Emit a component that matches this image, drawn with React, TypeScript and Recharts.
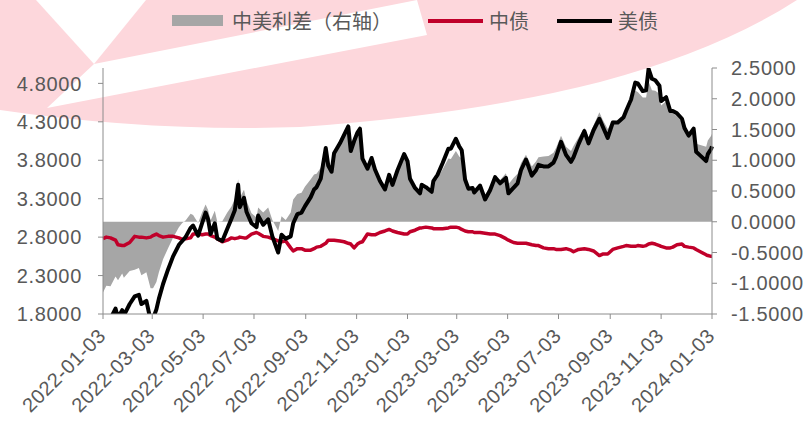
import React from "react";
import { ComposedChart, Area, Line, XAxis, YAxis } from "recharts";

// trading dates (sampled), yields in %, spread = 美债 - 中债 (right axis)
const dates = [
  "2022-01-03", "2022-01-07", "2022-01-12", "2022-01-18", "2022-01-21", "2022-01-26", "2022-01-28", "2022-02-04",
  "2022-02-10", "2022-02-15", "2022-02-18", "2022-02-24", "2022-03-01", "2022-03-04", "2022-03-08", "2022-03-11",
  "2022-03-16", "2022-03-22", "2022-03-28", "2022-04-04", "2022-04-08", "2022-04-12", "2022-04-18", "2022-04-21",
  "2022-04-27", "2022-05-02", "2022-05-06", "2022-05-09", "2022-05-12", "2022-05-17", "2022-05-20", "2022-05-26",
  "2022-06-01", "2022-06-06", "2022-06-10", "2022-06-14", "2022-06-16", "2022-06-21", "2022-06-24", "2022-06-30",
  "2022-07-06", "2022-07-08", "2022-07-14", "2022-07-20", "2022-07-25", "2022-08-01", "2022-08-05", "2022-08-10",
  "2022-08-16", "2022-08-19", "2022-08-24", "2022-08-29", "2022-09-02", "2022-09-09", "2022-09-13", "2022-09-16",
  "2022-09-21", "2022-09-27", "2022-09-30", "2022-10-04", "2022-10-07", "2022-10-14", "2022-10-19", "2022-10-24",
  "2022-10-27", "2022-10-31", "2022-11-04", "2022-11-07", "2022-11-10", "2022-11-16", "2022-11-21", "2022-11-25",
  "2022-12-01", "2022-12-07", "2022-12-12", "2022-12-16", "2022-12-22", "2022-12-30",
  "2023-01-03", "2023-01-06", "2023-01-12", "2023-01-18", "2023-01-20", "2023-01-25", "2023-02-01", "2023-02-03",
  "2023-02-08", "2023-02-14", "2023-02-21", "2023-02-24", "2023-03-02", "2023-03-06", "2023-03-09", "2023-03-13",
  "2023-03-17", "2023-03-22", "2023-03-24", "2023-03-31", "2023-04-06", "2023-04-12", "2023-04-18", "2023-04-24",
  "2023-05-01", "2023-05-04", "2023-05-10", "2023-05-15", "2023-05-19", "2023-05-25", "2023-06-01", "2023-06-06",
  "2023-06-09", "2023-06-15", "2023-06-21", "2023-06-27", "2023-06-30", "2023-07-06", "2023-07-12", "2023-07-18",
  "2023-07-21", "2023-07-27", "2023-08-03", "2023-08-08", "2023-08-14", "2023-08-21", "2023-08-25", "2023-08-31",
  "2023-09-06", "2023-09-12", "2023-09-19", "2023-09-22", "2023-09-28", "2023-10-03", "2023-10-06", "2023-10-12",
  "2023-10-16", "2023-10-19", "2023-10-23", "2023-10-27", "2023-11-01", "2023-11-03", "2023-11-09", "2023-11-14",
  "2023-11-17", "2023-11-22", "2023-11-28", "2023-12-01", "2023-12-06", "2023-12-12", "2023-12-15", "2023-12-20",
  "2023-12-27", "2023-12-29", "2024-01-02", "2024-01-03",
];

const usYield = [
  1.63, 1.76, 1.74, 1.87, 1.75, 1.85, 1.78, 1.93,
  2.03, 2.05, 1.93, 1.97, 1.72, 1.74, 1.86, 2.00,
  2.19, 2.38, 2.55, 2.70, 2.75, 2.80, 2.92, 2.95,
  2.82, 2.99, 3.12, 3.03, 2.84, 2.98, 2.78, 2.75,
  2.91, 3.04, 3.15, 3.48, 3.19, 3.31, 3.13, 2.98,
  2.93, 3.08, 2.96, 3.03, 2.81, 2.60, 2.83, 2.78,
  2.81, 2.98, 3.10, 3.12, 3.20, 3.32, 3.42, 3.45,
  3.56, 3.96, 3.73, 3.65, 3.89, 4.02, 4.13, 4.24,
  3.92, 4.05, 4.16, 4.21, 3.82, 3.69, 3.83, 3.68,
  3.53, 3.42, 3.61, 3.48, 3.67, 3.88,
  3.79, 3.56, 3.44, 3.37, 3.48, 3.45, 3.39, 3.53,
  3.61, 3.76, 3.95, 3.95, 4.08, 3.98, 3.93, 3.55,
  3.43, 3.44, 3.38, 3.47, 3.29, 3.41, 3.58, 3.50,
  3.57, 3.37, 3.44, 3.50, 3.67, 3.81, 3.60, 3.67,
  3.74, 3.72, 3.72, 3.77, 3.84, 4.04, 3.87, 3.78,
  3.84, 4.01, 4.18, 4.02, 4.19, 4.34, 4.24, 4.09,
  4.29, 4.29, 4.36, 4.44, 4.59, 4.81, 4.80, 4.70,
  4.71, 4.99, 4.86, 4.84, 4.77, 4.57, 4.62, 4.44,
  4.44, 4.41, 4.34, 4.22, 4.12, 4.21, 3.91, 3.86,
  3.79, 3.88, 3.95, 3.98,
];

const cnYield = [
  2.78, 2.80, 2.79, 2.76, 2.70, 2.69, 2.69, 2.73,
  2.81, 2.80, 2.80, 2.79, 2.80, 2.82, 2.84, 2.82,
  2.80, 2.81, 2.81, 2.79, 2.77, 2.78, 2.79, 2.84,
  2.84, 2.83, 2.84, 2.84, 2.82, 2.80, 2.78, 2.74,
  2.76, 2.79, 2.78, 2.79, 2.80, 2.79, 2.79, 2.84,
  2.86, 2.85, 2.81, 2.80, 2.78, 2.75, 2.74, 2.75,
  2.66, 2.62, 2.65, 2.65, 2.63, 2.63, 2.65, 2.67,
  2.68, 2.72, 2.76, 2.76, 2.76, 2.75, 2.74, 2.72,
  2.71, 2.66, 2.71, 2.73, 2.74, 2.84, 2.83, 2.83,
  2.86, 2.88, 2.90, 2.88, 2.86, 2.84,
  2.84, 2.87, 2.89, 2.92, 2.92, 2.93, 2.92, 2.91,
  2.91, 2.91, 2.92, 2.93, 2.93, 2.92, 2.90, 2.88,
  2.87, 2.87, 2.86, 2.86, 2.85, 2.84, 2.84, 2.82,
  2.78, 2.76, 2.73, 2.72, 2.72, 2.72, 2.70, 2.69,
  2.69, 2.66, 2.65, 2.65, 2.64, 2.64, 2.65, 2.63,
  2.61, 2.64, 2.65, 2.64, 2.62, 2.56, 2.58, 2.58,
  2.64, 2.66, 2.68, 2.69, 2.68, 2.68, 2.69, 2.68,
  2.69, 2.71, 2.72, 2.71, 2.69, 2.68, 2.66, 2.66,
  2.67, 2.70, 2.71, 2.68, 2.67, 2.66, 2.64, 2.61,
  2.57, 2.56, 2.55, 2.55,
];

const spread = [
  -1.15, -1.04, -1.05, -0.89, -0.95, -0.84, -0.91, -0.80,
  -0.78, -0.75, -0.87, -0.82, -1.08, -1.08, -0.98, -0.82,
  -0.61, -0.43, -0.26, -0.09, -0.02, 0.02, 0.13, 0.11,
  -0.02, 0.16, 0.28, 0.19, 0.02, 0.18, 0.0, 0.01,
  0.15, 0.25, 0.37, 0.69, 0.39, 0.52, 0.34, 0.14,
  0.07, 0.23, 0.15, 0.23, 0.03, -0.15, 0.09, 0.03,
  0.15, 0.36, 0.45, 0.47, 0.57, 0.69, 0.77, 0.78,
  0.88, 1.24, 0.97, 0.89, 1.13, 1.27, 1.39, 1.52,
  1.21, 1.39, 1.45, 1.48, 1.08, 0.85, 1.0, 0.85,
  0.67, 0.54, 0.71, 0.6, 0.81, 1.04,
  0.95, 0.69, 0.55, 0.45, 0.56, 0.52, 0.47, 0.62,
  0.7, 0.85, 1.03, 1.02, 1.15, 1.06, 1.03, 0.67,
  0.56, 0.57, 0.52, 0.61, 0.44, 0.57, 0.74, 0.68,
  0.79, 0.61, 0.71, 0.78, 0.95, 1.09, 0.9, 0.98,
  1.05, 1.06, 1.07, 1.12, 1.2, 1.4, 1.22, 1.15,
  1.23, 1.37, 1.53, 1.38, 1.57, 1.78, 1.66, 1.51,
  1.65, 1.63, 1.68, 1.75, 1.91, 2.13, 2.11, 2.02,
  2.02, 2.28, 2.14, 2.13, 2.08, 1.89, 1.96, 1.78,
  1.77, 1.71, 1.63, 1.54, 1.45, 1.55, 1.27, 1.25,
  1.22, 1.32, 1.4, 1.43,
];

const xTickDates = [
  "2022-01-03", "2022-03-03", "2022-05-03", "2022-07-03", "2022-09-03", "2022-11-03", "2023-01-03",
  "2023-03-03", "2023-05-03", "2023-07-03", "2023-09-03", "2023-11-03", "2024-01-03",
];
const leftTicks = [1.8, 2.3, 2.8, 3.3, 3.8, 4.3, 4.8];
const rightTicks = [-1.5, -1.0, -0.5, 0, 0.5, 1.0, 1.5, 2.0, 2.5];

const toTime = (d: string) => Date.parse(d);
const fmtDate = (t: number) => new Date(t).toISOString().slice(0, 10);

const data = dates.map((d, i) => ({
  t: toTime(d),
  us: usYield[i],
  cn: cnYield[i],
  spread: spread[i],
}));

const FONT = '"Liberation Sans", Arial, sans-serif';
const CJK = '"Noto Sans CJK SC", sans-serif';
const TEXT = "#595959";
const AXIS = "#8c8c8c";
const RED = "#C0002A";
const GRAY = "#A6A6A6";

const XTick = ({ x, y, payload }: any) => {
  const ax = x + 4;
  const ay = y + 16;
  return (
    <text x={ax} y={ay} transform={`rotate(-45 ${ax} ${ay})`} textAnchor="end"
      fill={TEXT} fontSize={20} fontFamily={FONT} letterSpacing={0.6}>
      {fmtDate(payload.value)}
    </text>
  );
};

const LeftTick = ({ x, y, payload }: any) => (
  <text x={x} y={y} dy="0.36em" textAnchor="end" fill={TEXT} fontSize={20} fontFamily={FONT} letterSpacing={0.7}>
    {Number(payload.value).toFixed(4)}
  </text>
);

const RightTick = ({ x, y, payload }: any) => (
  <text x={x} y={y} dy="0.36em" textAnchor="start" fill={TEXT} fontSize={20} fontFamily={FONT} letterSpacing={0.7}>
    {Number(payload.value).toFixed(4)}
  </text>
);

function Watermark() {
  return (
    <svg width={808} height={421} style={{ position: "absolute", left: 0, top: 0 }}>
      <path d="M0,0 H797 Q720,50 600,82 Q470,115 300,127 Q150,132 0,110 Z" fill="#FDD7DC" />
      <polygon points="36,0 146,0 94,64" fill="#fff" />
      <polygon points="47,108 94,64 417,0 427,35" fill="#fff" />
    </svg>
  );
}

function LegendBar() {
  const txt = { position: "absolute" as const, top: 8, fontSize: 20, fontFamily: CJK, color: TEXT, lineHeight: "26px", whiteSpace: "nowrap" as const };
  return (
    <div style={{ position: "absolute", left: 0, top: 0, width: 808, height: 40 }}>
      <div style={{ position: "absolute", left: 172, top: 15, width: 51, height: 11, background: GRAY }} />
      <div style={{ ...txt, left: 232 }}>中美利差（右轴）</div>
      <div style={{ position: "absolute", left: 428, top: 19, width: 55, height: 4, background: RED }} />
      <div style={{ ...txt, left: 489 }}>中债</div>
      <div style={{ position: "absolute", left: 557, top: 19, width: 55, height: 4, background: "#000" }} />
      <div style={{ ...txt, left: 618 }}>美债</div>
    </div>
  );
}

export default function App() {
  return (
    <div style={{ position: "relative", width: 808, height: 421, background: "#fff", overflow: "hidden" }}>
      <style>{"body{margin:0}"}</style>
      <Watermark />
      <LegendBar />
      <div style={{ position: "absolute", left: 0, top: 0 }}>
        <ComposedChart width={808} height={421} data={data} margin={{ top: 68, right: 0, bottom: 0, left: 0 }}>
          <XAxis
            dataKey="t"
            type="number"
            domain={[toTime("2022-01-03"), toTime("2024-01-03")]}
            ticks={xTickDates.map(toTime)}
            interval={0}
            height={107}
            tickSize={5}
            axisLine={{ stroke: AXIS }}
            tickLine={{ stroke: AXIS }}
            tick={<XTick />}
          />
          <YAxis
            yAxisId="left"
            domain={[1.8, 5.0]}
            ticks={leftTicks}
            interval={0}
            allowDataOverflow
            width={103}
            tickSize={5}
            tickMargin={16}
            axisLine={{ stroke: AXIS }}
            tickLine={{ stroke: AXIS }}
            tick={<LeftTick />}
          />
          <YAxis
            yAxisId="right"
            orientation="right"
            domain={[-1.5, 2.5]}
            ticks={rightTicks}
            interval={0}
            allowDataOverflow
            width={96}
            tickSize={5}
            tickMargin={14}
            axisLine={{ stroke: AXIS }}
            tickLine={{ stroke: AXIS }}
            tick={<RightTick />}
          />
          <Area
            yAxisId="right"
            dataKey="spread"
            type="linear"
            baseValue={0}
            fill={GRAY}
            fillOpacity={1}
            stroke="none"
            isAnimationActive={false}
          />
          <Line
            yAxisId="left"
            dataKey="cn"
            type="linear"
            stroke={RED}
            strokeWidth={3.5}
            dot={false}
            strokeLinejoin="round"
            isAnimationActive={false}
          />
          <Line
            yAxisId="left"
            dataKey="us"
            type="linear"
            stroke="#000"
            strokeWidth={4}
            dot={false}
            strokeLinejoin="round"
            isAnimationActive={false}
          />
        </ComposedChart>
      </div>
    </div>
  );
}
